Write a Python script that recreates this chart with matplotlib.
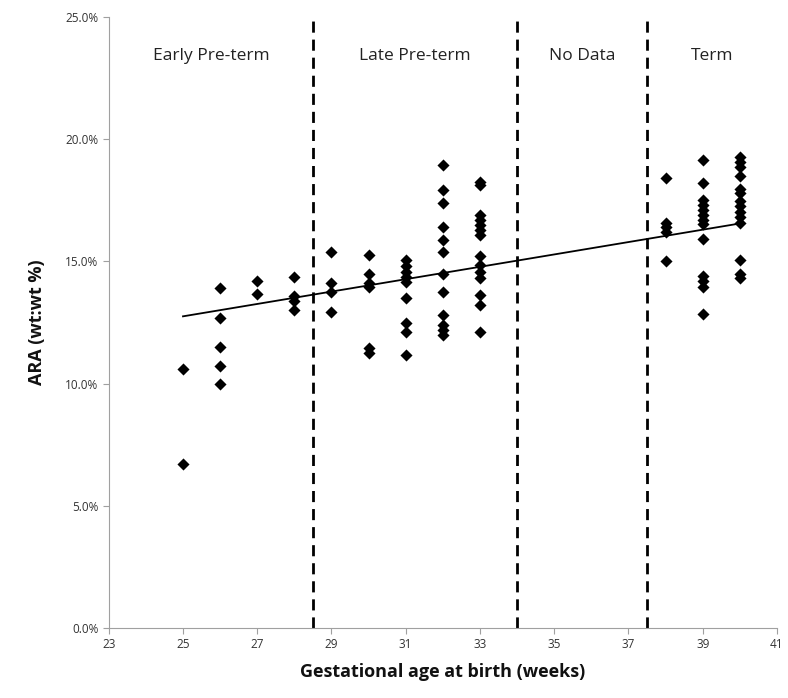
import numpy as np
import matplotlib
matplotlib.use('Agg')
import matplotlib.pyplot as plt
from matplotlib.ticker import PercentFormatter

plt.rcParams['font.family'] = ['Open Sans', 'DejaVu Sans']

# ARA values (%) read per gestational week
weeks = [25, 26, 27, 28, 29, 30, 31, 32, 33, 38, 39, 40]
ara = [
    [10.6, 6.7],
    [13.9, 12.7, 11.5, 10.7, 10.0],
    [14.2, 13.65],
    [14.35, 13.6, 13.4, 13.0],
    [15.4, 14.1, 13.76, 12.94],
    [15.26, 14.5, 14.1, 13.97, 11.44, 11.24],
    [15.06, 14.8, 14.58, 14.37, 14.17, 13.49, 12.47, 12.12, 11.17],
    [18.94, 17.92, 17.4, 16.42, 15.88, 15.4, 14.5, 13.76, 12.81, 12.4, 12.2, 12.0],
    [18.26, 18.13, 16.9, 16.69, 16.49, 16.28, 16.08, 15.22, 14.85, 14.58, 14.31,
     13.63, 13.22, 12.12],
    [18.4, 16.58, 16.4, 16.22, 15.0],
    [19.15, 18.2, 17.51, 17.3, 17.1, 16.9, 16.69, 16.53, 15.9, 14.4, 14.2, 13.97, 12.85],
    [19.28, 19.08, 18.88, 18.49, 17.95, 17.78, 17.48, 17.27, 17.04, 16.83, 16.58,
     15.06, 14.48, 14.31],
]

# trend line as drawn in the reference
trend_slope = 0.2533
trend_intercept = 6.42

boundaries = [28.5, 34, 37.5]
region_names = ['Early Pre-term', 'Late Pre-term', 'No Data', 'Term']
xmin, xmax = 23, 41

x = np.concatenate([[w] * len(v) for w, v in zip(weeks, ara)]).astype(float)
y = np.concatenate(ara)

fig = plt.figure(figsize=(7.88, 6.98), dpi=100)
ax = fig.add_axes([0.138, 0.1003, 0.848, 0.8753])

ax.scatter(x, y, marker='D', s=38, color='black', zorder=3, linewidths=0)

xt = np.array([x.min(), x.max()])
ax.plot(xt, trend_slope * xt + trend_intercept, color='black', lw=1.3, zorder=2)

for xb in boundaries:
    ax.axvline(xb, color='black', ls=(0, (4, 2.5)), lw=2)

edges = [xmin] + boundaries + [xmax]
for i, name in enumerate(region_names):
    ax.text((edges[i] + edges[i + 1]) / 2, 23.4, name, ha='center', va='center',
            fontsize=12.5, color='#222222')

ax.set_xlim(xmin, xmax)
ax.set_ylim(0, 25)
ax.set_xticks(range(23, 42, 2))
ax.set_yticks(np.arange(0, 25.1, 5))
ax.yaxis.set_major_formatter(PercentFormatter(decimals=1))

for s in ['top', 'right']:
    ax.spines[s].set_visible(False)
for s in ['left', 'bottom']:
    ax.spines[s].set_color('#a0a0a0')
ax.tick_params(colors='#a0a0a0', labelcolor='#333333', labelsize=8.5, length=4)

ax.set_xlabel('Gestational age at birth (weeks)', fontsize=13, fontweight='bold',
              color='#111111', labelpad=8)
ax.set_ylabel('ARA (wt:wt %)', fontsize=13, fontweight='bold', color='#111111',
              labelpad=14)

plt.savefig('out.png', dpi=100)
